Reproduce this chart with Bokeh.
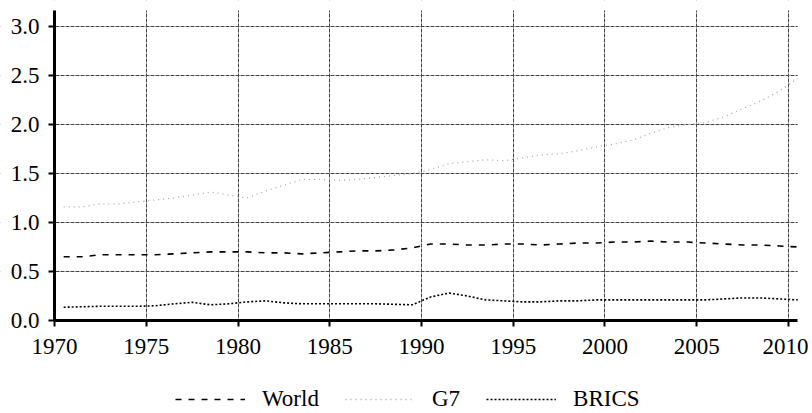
from bokeh.plotting import figure
from bokeh.models import Legend, LegendItem, Range1d, FixedTicker, CustomJSTickFormatter, BoxAnnotation
from bokeh.embed import file_html
from bokeh.resources import INLINE

years = [1970.5, 1971.5, 1972.5, 1973.5, 1974.5, 1975.5, 1976.5, 1977.5, 1978.5, 1979.5,
         1980.5, 1981.5, 1982.5, 1983.5, 1984.5, 1985.5, 1986.5, 1987.5, 1988.5, 1989.5,
         1990.5, 1991.5, 1992.5, 1993.5, 1994.5, 1995.5, 1996.5, 1997.5, 1998.5, 1999.5,
         2000.5, 2001.5, 2002.5, 2003.5, 2004.5, 2005.5, 2006.5, 2007.5, 2008.5, 2009.5,
         2010.5]

world = [0.65, 0.65, 0.67, 0.67, 0.67, 0.67, 0.68, 0.69, 0.70, 0.70,
         0.70, 0.69, 0.69, 0.68, 0.69, 0.70, 0.71, 0.71, 0.72, 0.74,
         0.78, 0.78, 0.77, 0.77, 0.78, 0.78, 0.77, 0.78, 0.79, 0.79,
         0.80, 0.80, 0.81, 0.80, 0.80, 0.79, 0.78, 0.77, 0.77, 0.76,
         0.75]

g7 = [1.16, 1.16, 1.19, 1.19, 1.21, 1.23, 1.25, 1.28, 1.31, 1.28,
      1.25, 1.32, 1.38, 1.44, 1.44, 1.43, 1.44, 1.46, 1.48, 1.50,
      1.54, 1.60, 1.62, 1.64, 1.63, 1.66, 1.69, 1.70, 1.73, 1.77,
      1.80, 1.84, 1.91, 1.97, 2.00, 2.02, 2.08, 2.16, 2.24, 2.34,
      2.47]

brics = [0.135, 0.14, 0.145, 0.145, 0.145, 0.15, 0.17, 0.185, 0.16, 0.17,
         0.19, 0.20, 0.18, 0.17, 0.17, 0.17, 0.17, 0.17, 0.165, 0.16,
         0.24, 0.28, 0.25, 0.21, 0.20, 0.19, 0.19, 0.20, 0.20, 0.21,
         0.21, 0.21, 0.21, 0.21, 0.21, 0.21, 0.22, 0.23, 0.23, 0.22,
         0.21]

x_ticks = [1970, 1975, 1980, 1985, 1990, 1995, 2000, 2005, 2010]
y_ticks = [0.0, 0.5, 1.0, 1.5, 2.0, 2.5, 3.0]

FONT = "Times New Roman"
X_MIN, X_MAX = 1970, 2010.5
Y_MIN, Y_MAX = 0, 3.163

p = figure(width=808, height=412, output_backend="svg", toolbar_location=None,
           x_range=Range1d(1967.057, 2011.09), y_range=Range1d(-0.939, 3.265),
           min_border_left=0, min_border_right=0, min_border_top=0, min_border_bottom=0)
p.outline_line_color = None
p.background_fill_color = "white"

p.xaxis.ticker = FixedTicker(ticks=x_ticks)
p.xaxis.fixed_location = Y_MIN
p.xaxis.bounds = (X_MIN, X_MAX)
p.yaxis.ticker = FixedTicker(ticks=y_ticks)
p.yaxis.fixed_location = X_MIN
p.yaxis.bounds = (Y_MIN, Y_MAX)
p.yaxis.formatter = CustomJSTickFormatter(code="return tick.toFixed(1);")

for ax in (p.xaxis, p.yaxis):
    ax.axis_line_width = 3
    ax.axis_line_color = "black"
    ax.major_tick_line_width = 2
    ax.major_tick_line_color = "black"
    ax.major_tick_out = 6
    ax.major_tick_in = 0
    ax.minor_tick_line_color = None
    ax.major_label_text_font = FONT
    ax.major_label_text_font_size = "23px"
    ax.major_label_text_color = "black"
p.xaxis.major_label_standoff = 13
p.yaxis.major_label_standoff = 9

p.xgrid.ticker = FixedTicker(ticks=x_ticks)
p.ygrid.ticker = FixedTicker(ticks=[0.5, 1.0, 1.5, 2.0, 2.5, 3.0])
for g in (p.xgrid, p.ygrid):
    g.grid_line_color = "#444444"
    g.grid_line_width = 1
    g.grid_line_dash = "4 1"

# white margins outside the data area (hide grid lines there)
for box in (BoxAnnotation(top=Y_MIN), BoxAnnotation(bottom=Y_MAX),
            BoxAnnotation(right=X_MIN), BoxAnnotation(left=X_MAX)):
    box.fill_color = "white"
    box.fill_alpha = 1.0
    box.line_color = None
    box.level = "underlay"
    p.add_layout(box)

r_world = p.line(years, world, line_color="black", line_width=1.6, line_dash="6 7")
r_g7 = p.line(years, g7, line_color="#a8a8a8", line_width=1.3, line_dash="1 4")
r_brics = p.line(years, brics, line_color="black", line_width=1.6, line_dash="2 2")

legend = Legend(items=[LegendItem(label="World", renderers=[r_world]),
                       LegendItem(label="G7", renderers=[r_g7]),
                       LegendItem(label="BRICS", renderers=[r_brics])],
                orientation="horizontal", location=(175, 0))
legend.label_text_font = FONT
legend.label_text_font_size = "23px"
legend.label_text_color = "black"
legend.glyph_width = 70
legend.label_standoff = 17
legend.spacing = 26
legend.border_line_color = None
legend.background_fill_alpha = 0
legend.margin = 0
legend.padding = 0
p.add_layout(legend, "center")

open("out.html", "w").write(file_html(p, INLINE))
